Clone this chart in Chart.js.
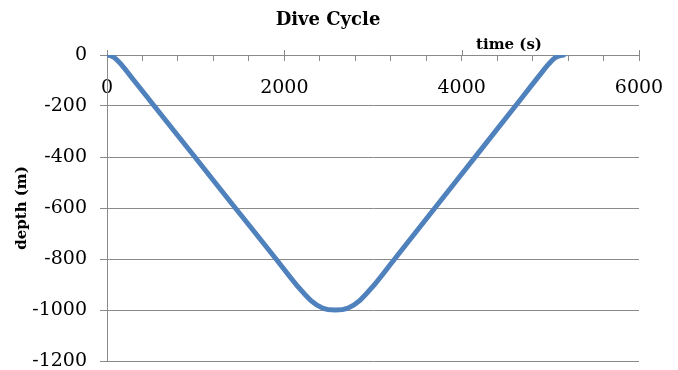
<!DOCTYPE html>
<html>
<head>
<meta charset="utf-8">
<script src="https://cdn.jsdelivr.net/npm/chart.js@4/dist/chart.umd.min.js"></script>
<style>
  html, body { margin: 0; padding: 0; background: #ffffff; }
  #wrap { width: 678px; height: 370px; }
</style>
</head>
<body>
<div id="wrap"><canvas id="dive" width="678" height="370"></canvas></div>
<script>
// Dive profile: elapsed time (s) against depth (m)
const chartTitle = 'Dive Cycle';
const xAxisTitle = 'time (s)';
const yAxisTitle = 'depth (m)';

const timeSec = [0, 50, 100, 150, 300, 533, 1000, 1420, 1906, 2150, 2300, 2430, 2575,
                 2720, 2850, 3000, 3244, 3700, 4200, 4606, 4900, 4970, 5000, 5050, 5100, 5150];
const depthM  = [0, -4, -15, -33, -98, -200, -404, -588, -800, -907, -963, -992, -1000,
                 -992, -963, -907, -800, -599, -379, -200, -70, -40, -28, -12, -3, 0];

const xTickLabels = [0, 2000, 4000, 6000];   // labelled (major) x ticks
const xMinorStep = 400;                       // spacing of the small x tick marks
const yTickValues = [0, -200, -400, -600, -800, -1000, -1200];

const gridColor = '#8a8a8a';
const lineColor = '#4f81bd';
const serif = '"DejaVu Serif", serif';

const points = timeSec.map((t, i) => ({ x: t, y: depthM[i] }));

// Major x ticks also poke above the axis line; the x-axis title sits above it on the right
const axisExtras = {
  id: 'axisExtras',
  afterDraw(chart) {
    const { ctx, chartArea, scales: { x, y } } = chart;
    const y0 = Math.round(y.getPixelForValue(0));
    ctx.save();
    ctx.strokeStyle = gridColor;
    ctx.lineWidth = 1;
    xTickLabels.forEach(v => {
      const px = Math.round(x.getPixelForValue(v)) + 0.5;
      ctx.beginPath();
      ctx.moveTo(px, y0 - 5);
      ctx.lineTo(px, y0);
      ctx.stroke();
    });
    ctx.font = 'bold 15px ' + serif;
    ctx.fillStyle = '#000000';
    ctx.textAlign = 'center';
    ctx.textBaseline = 'middle';
    ctx.fillText(xAxisTitle, chartArea.right - 130, y0 - 10);
    ctx.restore();
  }
};

new Chart(document.getElementById('dive'), {
  type: 'line',
  data: {
    datasets: [{
      label: 'depth',
      data: points,
      borderColor: lineColor,
      borderWidth: 5,
      borderCapStyle: 'round',
      borderJoinStyle: 'round',
      pointRadius: 0,
      fill: false,
      cubicInterpolationMode: 'monotone'
    }]
  },
  options: {
    responsive: false,
    animation: false,
    devicePixelRatio: 1,
    layout: { padding: { left: 17, right: 39, top: 0, bottom: 9 } },
    plugins: {
      legend: { display: false },
      tooltip: { enabled: false },
      title: {
        display: true,
        text: chartTitle,
        color: '#000000',
        font: { family: serif, size: 18, weight: 'bold' },
        padding: { top: 10, bottom: 23.4 }
      }
    },
    scales: {
      x: {
        type: 'linear',
        position: { y: 0 },
        min: 0,
        max: 6000,
        afterFit: scale => {
          scale.paddingLeft = 0;
          scale.paddingRight = 0;
        },
        grid: { drawOnChartArea: false, drawTicks: true, tickLength: 5, color: gridColor },
        border: { display: true, color: gridColor, width: 1 },
        ticks: {
          stepSize: xMinorStep,
          autoSkip: false,
          maxRotation: 0,
          padding: 17,
          color: '#000000',
          font: { family: serif, size: 19 },
          callback: v => (xTickLabels.includes(v) ? String(v) : '')
        }
      },
      y: {
        type: 'linear',
        position: 'left',
        min: yTickValues[yTickValues.length - 1],
        max: yTickValues[0],
        afterBuildTicks: scale => { scale.ticks = yTickValues.map(v => ({ value: v })); },
        afterFit: scale => {
          scale.width = 90;
          scale.paddingTop = 0;
          scale.paddingBottom = 0;
        },
        grid: { color: gridColor, tickLength: 7 },
        border: { display: true, color: gridColor, width: 1 },
        ticks: {
          padding: 13,
          color: '#000000',
          font: { family: serif, size: 19 },
          callback: v => String(v)
        },
        title: {
          display: true,
          text: yAxisTitle,
          color: '#000000',
          font: { family: serif, size: 15, weight: 'bold' },
          padding: { top: -4, bottom: 0 }
        }
      }
    }
  },
  plugins: [axisExtras]
});
</script>
</body>
</html>
